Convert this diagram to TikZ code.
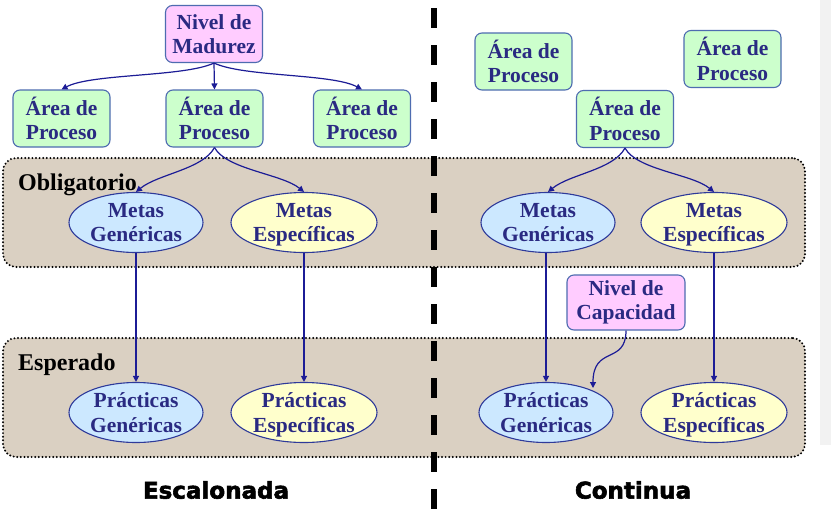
\documentclass[tikz,border=0pt]{standalone}
\usepackage{fontspec}
\setmainfont{Liberation Serif}
\newfontfamily\titlefont[BoldFeatures={FakeBold=2.5}]{DejaVu Sans}
\usetikzlibrary{shapes.geometric,arrows.meta}
\definecolor{txtnavy}{HTML}{2A2A82}
\definecolor{arrnavy}{HTML}{1C1C96}
\definecolor{boxborder}{HTML}{4E6CB0}
\definecolor{pinkfill}{HTML}{FFCCFF}
\definecolor{greenfill}{HTML}{CCFFCC}
\definecolor{bluefill}{HTML}{CCE8FF}
\definecolor{yellowfill}{HTML}{FFFFCC}
\definecolor{bandfill}{HTML}{DAD0C2}
\definecolor{ellborder}{HTML}{2E3A9A}
\tikzset{
  nodefont/.style={font=\bfseries\fontsize{21.5}{24.5}\selectfont, text=txtnavy, align=center},
  areabox/.style={nodefont, draw=boxborder, line width=1.1pt, rounded corners=7pt, fill=greenfill, minimum width=97pt, minimum height=57pt, inner sep=0pt},
  levelbox/.style={areabox, fill=pinkfill},
  genell/.style={nodefont, ellipse, draw=ellborder, line width=1.1pt, fill=bluefill, minimum width=134pt, minimum height=60pt, inner sep=0pt, text depth=0pt},
  specell/.style={genell, fill=yellowfill, minimum width=146pt},
  band/.style={draw=black, line width=2.2pt, dash pattern=on 0pt off 3.6pt, line cap=round, rounded corners=13pt, fill=bandfill, minimum width=802pt, inner sep=0pt},
  bandlabel/.style={font=\bfseries\fontsize{24}{28}\selectfont, text=black, anchor=base west, inner sep=0pt},
  conn/.style={draw=arrnavy, line width=1.2pt, -{Triangle[length=6pt,width=6pt]}},
  titletext/.style={font=\titlefont\bfseries\fontsize{23}{27}\selectfont, text=black},
}
\begin{document}
\begin{tikzpicture}[x=1pt,y=-1pt]
\useasboundingbox (0,0) rectangle (831,515);
\fill[white] (0,0) rectangle (831,515);
% right edge grey strip
\fill[gray!10] (820,0) rectangle (831,445);
% bands
\node[band, minimum height=109pt] (ob) at (404,212.5) {};
\node[band, minimum height=119pt] (es) at (404,397.5) {};
\node[bandlabel] (oblab) at (18,190) {Obligatorio};
\node[bandlabel] (eslab) at (18,370) {Esperado};
% divider
\coordinate (dtop) at (434,8);
\coordinate (dbot) at (434,511);
\draw[black, line width=5.5pt, dash pattern=on 20pt off 17pt] (dtop) -- (dbot);
% left side
\node[levelbox] (nm) at (214,34) {Nivel de\\Madurez};
\node[areabox] (a1) at (61.5,118.5) {Área de\\Proceso};
\node[areabox] (a2) at (214.5,118.5) {Área de\\Proceso};
\node[areabox] (a3) at (362,118.5) {Área de\\Proceso};
\node[genell] (mg) at (136,222.5) {Metas\\Genéricas};
\node[specell] (me) at (304,222.5) {Metas\\Específicas};
\node[genell] (pg) at (136,412.5) {Prácticas\\Genéricas};
\node[specell] (pe) at (304,412.5) {Prácticas\\Específicas};
\draw[conn] (nm.south) .. controls +(-30,14) and +(30,-16) .. (a1.north);
\draw[conn] (nm.south) -- (a2.north);
\draw[conn] (nm.south) .. controls +(30,14) and +(-30,-16) .. (a3.north);
\draw[conn] (a2.south) .. controls +(-12,22) and +(22,-18) .. (mg.north);
\draw[conn] (a2.south) .. controls +(12,22) and +(-22,-18) .. (me.north);
\draw[conn] (mg.south) -- (pg.north);
\draw[conn] (me.south) -- (pe.north);
% right side
\node[areabox] (b1) at (523.5,61.5) {Área de\\Proceso};
\node[areabox] (b3) at (732.5,59) {Área de\\Proceso};
\node[areabox] (b2) at (625,119) {Área de\\Proceso};
\node[genell] (mg2) at (548,222.5) {Metas\\Genéricas};
\node[specell] (me2) at (714,222.5) {Metas\\Específicas};
\node[levelbox, minimum width=118pt, minimum height=55pt] (nc) at (626,302.5) {Nivel de\\Capacidad};
\node[genell] (pg2) at (546,412.5) {Prácticas\\Genéricas};
\node[specell] (pe2) at (714,412.5) {Prácticas\\Específicas};
\draw[conn] (b2.south) .. controls +(-12,22) and +(22,-18) .. (mg2.north);
\draw[conn] (b2.south) .. controls +(12,22) and +(-22,-18) .. (me2.north);
\draw[conn] (mg2.south -| pg2.north) -- (pg2.north);
\draw[conn] (me2.south) -- (pe2.north);
\coordinate (pgin) at (593,388);
\draw[conn] (nc.south) .. controls (626,365) and (593,345) .. (pgin);
% titles
\node[titletext] (t1) at (216,490) {Escalonada};
\node[titletext] (t2) at (633,490) {Continua};
\end{tikzpicture}
\end{document}
